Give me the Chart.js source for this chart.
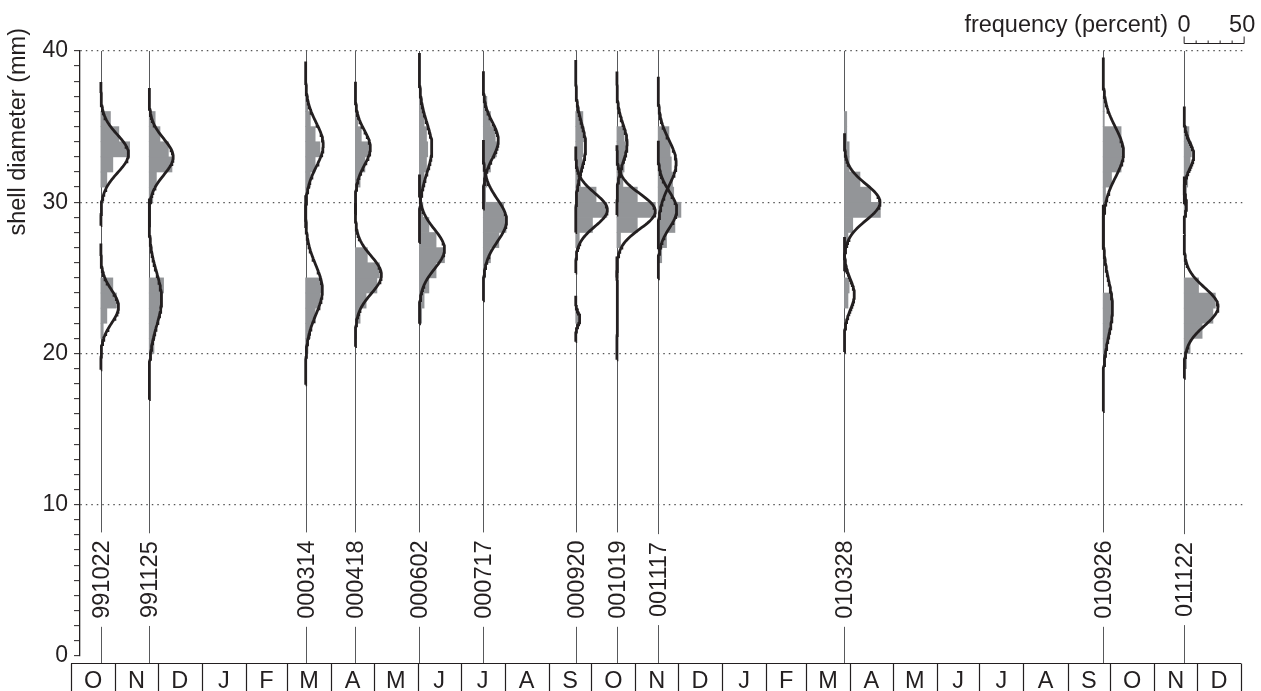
<!DOCTYPE html>
<html>
<head>
<meta charset="utf-8">
<script src="https://cdn.jsdelivr.net/npm/chart.js@4.4.1/dist/chart.umd.min.js"></script>
<style>
  html, body { margin: 0; padding: 0; background: #fff; }
  #wrap { width: 1261px; height: 691px; }
</style>
</head>
<body>
<div id="wrap"><canvas id="chart"></canvas></div>
<script>
// sample dates (yymmdd), used as the labels under each profile
const sampleLabels = ['991022', '991125', '000314', '000418', '000602', '000717',
                      '000920', '001019', '001117', '010328', '010926', '011122'];

// month strip, Oct 1999 .. Dec 2001
const monthLabels = ['O','N','D','J','F','M','A','M','J','J','A','S','O','N','D',
                     'J','F','M','A','M','J','J','A','S','O','N','D'];
const monthDays = [31,30,31, 31,29,31,30,31,30,31,31,30,31,30,31,
                   31,28,31,30,31,30,31,31,30,31,30,31];

// histogram bins: lower edge in mm (1 mm wide)
const binEdges = [18,19,20,21,22,23,24,25,26,27,28,29,30,31,32,33,34,35,36,37,38];

// frequency (percent) per bin, one array per sample
const freq991022 = [0,0,0,2,5,13,10,0,0,0,0,0,0,5,10,24,15,8,0,0,0];
const freq991125 = [0,0,4,5,8,11,12,0,0,0,0,0,3,6,19,16,9,5,0,0,0];
const freq000314 = [0,0,2,4,8,12,13,0,0,0,0,0,1,4,8,12,8,4,2,0,0];
const freq000418 = [0,0,0,1,4,9,18,20,10,0,0,0,1,4,8,11,5,2,0,0,0];
const freq000602 = [0,0,0,0,2,4,8,14,21,14,8,3,2,4,6,7,6,4,2,0,0];
const freq000717 = [0,0,0,0,0,0,0,2,6,13,19,17,2,3,6,11,10,6,3,0,0];
const freq000920 = [0,0,0,0,2,0,0,0,0,3,14,26,17,4,5,6,7,6,0,0,0];
const freq001019 = [0,0,0,0,0,0,0,0,0,3,17,32,17,5,6,7,6,0,0,0,0];
const freq001117 = [0,0,0,0,0,0,0,0,3,7,14,19,13,12,11,10,9,0,0,0,0];
const freq010328 = [0,0,0,0,0,3,4,0,0,3,7,30,22,13,4,4,2,2,0,0,0];
const freq010926 = [0,0,3,5,7,8,0,0,0,0,0,0,2,7,15,16,15,1,1,0,0];
const freq011122 = [0,2,5,15,24,26,12,0,0,0,0,2,2,3,5,6,4,0,0,0,0];
const freqs = [freq991022, freq991125, freq000314, freq000418, freq000602, freq000717,
               freq000920, freq001019, freq001117, freq010328, freq010926, freq011122];

// fitted normal components: [mean mm, sd mm, peak percent]
const fit991022 = [[33.2,1.25,23], [23.1,1.1,14.7]];
const fit991125 = [[33.0,1.2,20], [23.6,1.75,10.3]];
const fit000314 = [[33.8,1.45,14.7], [24.2,1.65,14]];
const fit000418 = [[33.6,1.15,12.5], [25.2,1.25,21.7]];
const fit000602 = [[33.6,1.65,10.5], [26.9,1.3,21]];
const fit000717 = [[34.1,1.2,12.5], [28.8,1.4,19.4]];
const fit000920 = [[33.7,1.5,8.3], [29.5,1.1,26.4], [22.3,0.4,3.5]];
const fit001019 = [[33.9,1.25,8.5], [29.4,1.15,32], [23.0,0.9,0.6]];
const fit001117 = [[32.6,1.5,15], [29.5,1.2,15.5]];
const fit010328 = [[30.0,1.2,29.7], [23.9,1.0,8.3]];
const fit010926 = [[33.3,1.65,17], [23.0,1.8,7.8]];
const fit011122 = [[33.1,0.85,8], [29.8,0.5,2], [23.1,1.25,28.3]];
const fits = [fit991022, fit991125, fit000314, fit000418, fit000602, fit000717,
              fit000920, fit001019, fit001117, fit010328, fit010926, fit011122];

const DAYS_PER_PCT = 0.844;   // 50 % spans about 42 days on the time axis
const X_MIN = 6.33, X_MAX = 824.4;
const LABEL_MM = 5.05;
const INK = '#231f20';
const FAMILY = '"Liberation Sans", Arial, Helvetica, sans-serif';
const FONT = '23.5px ' + FAMILY;

function dayOf(s) {
  const yy = +s.slice(0, 2);
  const year = yy > 50 ? 1900 + yy : 2000 + yy;
  return (Date.UTC(year, +s.slice(2, 4) - 1, +s.slice(4, 6)) - Date.UTC(1999, 9, 1)) / 864e5;
}
const sampleDays = sampleLabels.map(dayOf);

const barData = [];
freqs.forEach((f, i) => {
  f.forEach((v, j) => {
    if (v > 0) barData.push({ y: binEdges[j] + 0.5, x: [sampleDays[i], sampleDays[i] + v * DAYS_PER_PCT] });
  });
});

const curveSets = [];
fits.forEach((comps, i) => {
  comps.forEach(([m, sd, peak]) => {
    const pts = [];
    const lo = m - 3.8 * sd, hi = m + 3.8 * sd;
    for (let k = 0; k <= 90; k++) {
      const yy = lo + (hi - lo) * k / 90;
      const z = (yy - m) / sd;
      pts.push({ x: sampleDays[i] + peak * Math.exp(-0.5 * z * z) * DAYS_PER_PCT, y: yy });
    }
    curveSets.push({
      type: 'line', data: pts, borderColor: INK, borderWidth: 2.8,
      pointRadius: 0, fill: false, tension: 0, order: 1
    });
  });
});

const decor = {
  id: 'decor',
  beforeDatasetsDraw(chart) {
    const { ctx, scales: { x, y } } = chart;
    ctx.save();
    ctx.font = FONT;
    ctx.strokeStyle = '#58595b';
    ctx.lineWidth = 1;
    const bandTop = y.getPixelForValue(0) + 7;
    sampleDays.forEach((d, i) => {
      const px = Math.round(x.getPixelForValue(d)) + 0.5;
      const half = ctx.measureText(sampleLabels[i]).width / 2 + 8;
      const mid = y.getPixelForValue(LABEL_MM);
      ctx.beginPath();
      ctx.moveTo(px, y.getPixelForValue(40));
      ctx.lineTo(px, mid - half);
      ctx.moveTo(px, mid + half);
      ctx.lineTo(px, bandTop);
      ctx.stroke();
    });
    ctx.restore();
  },
  afterDraw(chart) {
    const { ctx, scales: { x, y } } = chart;
    ctx.save();
    ctx.fillStyle = INK;
    ctx.strokeStyle = INK;
    ctx.font = FONT;

    // sample labels
    const mid = y.getPixelForValue(LABEL_MM);
    sampleDays.forEach((d, i) => {
      ctx.save();
      ctx.translate(Math.round(x.getPixelForValue(d)) + 0.5, mid);
      ctx.rotate(-Math.PI / 2);
      ctx.textAlign = 'center';
      ctx.textBaseline = 'middle';
      ctx.fillText(sampleLabels[i], 0, 1);
      ctx.restore();
    });

    // month strip
    const top = y.getPixelForValue(0) + 7.5;
    const bottom = chart.height;
    const total = monthDays.reduce((a, b) => a + b, 0);
    ctx.lineWidth = 1.2;
    ctx.beginPath();
    ctx.moveTo(x.getPixelForValue(0), top);
    ctx.lineTo(x.getPixelForValue(total), top);
    let d = 0;
    ctx.textAlign = 'center';
    ctx.textBaseline = 'alphabetic';
    monthDays.forEach((n, i) => {
      const a = x.getPixelForValue(d), b = x.getPixelForValue(d + n);
      ctx.moveTo(Math.round(a) + 0.5, top);
      ctx.lineTo(Math.round(a) + 0.5, bottom);
      ctx.fillText(monthLabels[i], (a + b) / 2, top + 24.5);
      d += n;
    });
    const e = Math.round(x.getPixelForValue(total)) + 0.5;
    ctx.moveTo(e, top);
    ctx.lineTo(e, bottom);
    ctx.stroke();

    // frequency scale bar
    const s0 = x.getPixelForValue(sampleDays[sampleDays.length - 1]);
    const s1 = x.getPixelForValue(sampleDays[sampleDays.length - 1] + 50 * DAYS_PER_PCT);
    const by = 43.5;
    ctx.lineWidth = 1;
    ctx.beginPath();
    ctx.moveTo(s0, by); ctx.lineTo(s1, by);
    for (let k = 0; k <= 5; k++) {
      const px = s0 + (s1 - s0) * k / 5;
      ctx.moveTo(px, by);
      ctx.lineTo(px, by - (k === 0 || k === 5 ? 7 : 3));
    }
    ctx.stroke();
    ctx.textBaseline = 'alphabetic';
    ctx.fillText('0', s0, 32);
    ctx.fillText('50', s1 - 2, 32);
    ctx.textAlign = 'right';
    ctx.fillText('frequency (percent)', s0 - 16, 32);

    // y title
    ctx.save();
    ctx.translate(19, 28);
    ctx.rotate(-Math.PI / 2);
    ctx.textAlign = 'right';
    ctx.textBaseline = 'middle';
    ctx.fillText('shell diameter (mm)', 0, 0);
    ctx.restore();

    ctx.restore();
  }
};

new Chart(document.getElementById('chart'), {
  type: 'line',
  data: {
    datasets: [
      {
        type: 'bar', indexAxis: 'y', data: barData,
        backgroundColor: '#939598', borderWidth: 0,
        barPercentage: 1, categoryPercentage: 1, grouped: false, order: 2
      },
      ...curveSets
    ]
  },
  options: {
    responsive: true,
    maintainAspectRatio: false,
    animation: false,
    layout: { padding: { left: 0, right: 18, top: 51, bottom: 35 } },
    plugins: { legend: { display: false }, tooltip: { enabled: false } },
    scales: {
      x: {
        type: 'linear', display: false, min: X_MIN, max: X_MAX,
        offset: false, grid: { offset: false }
      },
      y: {
        type: 'linear', min: 0, max: 40, offset: false,
        afterFit(scale) { scale.width = 80; },
        ticks: {
          stepSize: 1, autoSkip: false, padding: 6, color: INK,
          font: { family: FAMILY, size: 23 },
          callback: v => (v % 10 === 0 ? String(v) : '')
        },
        grid: {
          offset: false,
          color: c => (c.tick && c.tick.value % 10 === 0 && c.tick.value > 0 ? '#555' : 'rgba(0,0,0,0)'),
          lineWidth: 1.3,
          tickColor: INK, tickLength: 6, tickWidth: 1
        },
        border: { display: true, color: INK, width: 1.3, dash: [1.5, 4] }
      }
    }
  },
  plugins: [decor]
});
</script>
</body>
</html>
